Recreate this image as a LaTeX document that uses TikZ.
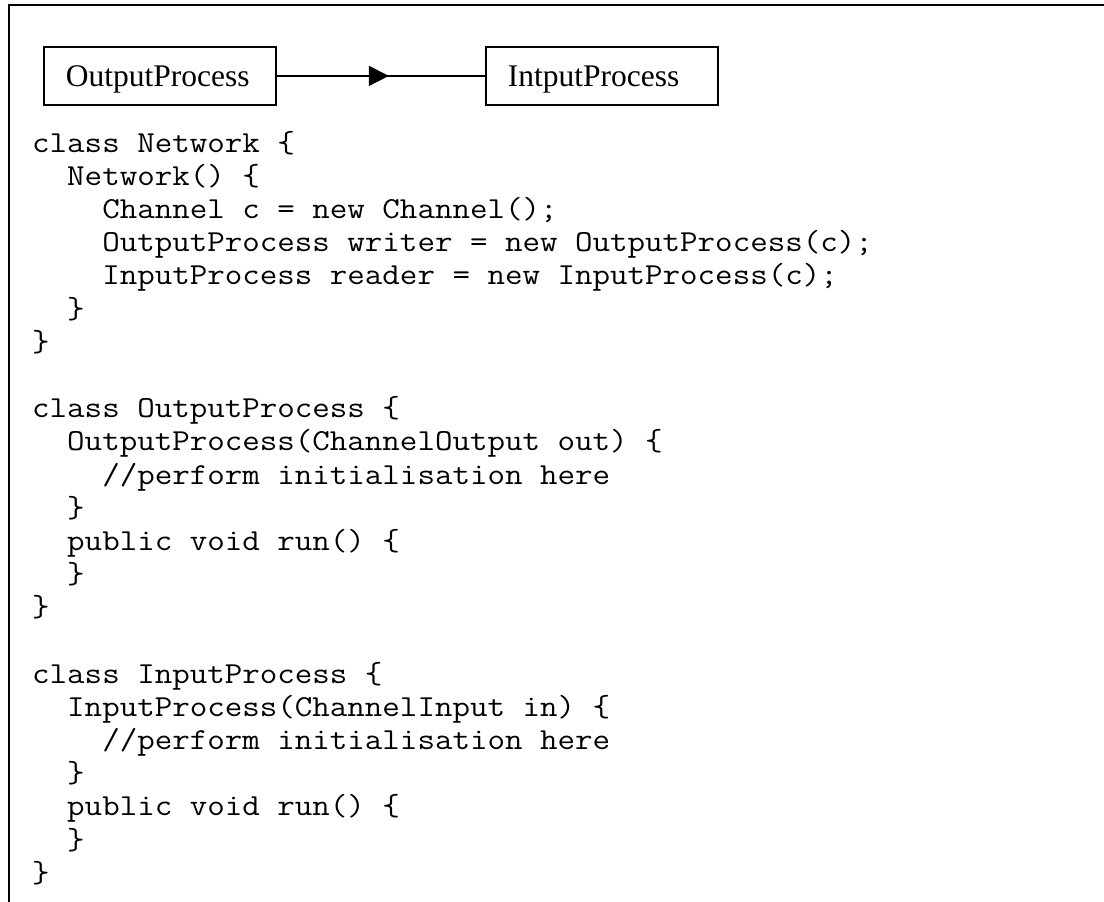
\documentclass[tikz,border=0pt]{standalone}
\usepackage{fontspec}
\setmainfont{Liberation Serif}
\usetikzlibrary{arrows.meta,decorations.markings}
\begin{document}
\begin{tikzpicture}[x=1pt,y=-1pt,
  frame/.style={line width=2.5pt},
  classbox/.style={draw,line width=1.8pt,anchor=north west,
    minimum height=58pt,text width=188pt,inner xsep=22pt,inner ysep=0pt,
    align=left,text height=22pt,text depth=0pt,
    font=\fontsize{31.5}{36}\selectfont},
  flow/.style={line width=1.8pt,postaction={decorate},
    decoration={markings,mark=at position 0.538 with
      {\arrow{Triangle[length=20pt,width=20pt]}}}},
  codeblock/.style={anchor=base west,inner sep=0pt,
    font=\ttfamily\fontsize{30.5}{33.2}\selectfont}]
\useasboundingbox (0,0) rectangle (1104,902);

% page frame: top rule and left rule
\coordinate (fbl) at (9,902);
\coordinate (ftl) at (9,5);
\coordinate (ftr) at (1104,5);
\draw[frame] (fbl) -- (ftl) -- (ftr);

% the two processes
\node[classbox] (op) at (43,46) {OutputProcess};
\node[classbox] (ip) at (485,46) {IntputProcess};
\draw[flow] (op.east) -- (ip.west);

% Java listing, widened to a Courier-like pitch
\node[codeblock] (code) at (32,152) {\scalebox{1.115}[1]{\begin{tabular}[t]{@{}l@{}}
class Network \{\\
\phantom{xx}Network() \{\\
\phantom{xxxx}Channel c = new Channel();\\
\phantom{xxxx}OutputProcess writer = new OutputProcess(c);\\
\phantom{xxxx}InputProcess reader = new InputProcess(c);\\
\phantom{xx}\}\\
\}\\
\\
class OutputProcess \{\\
\phantom{xx}OutputProcess(ChannelOutput out) \{\\
\phantom{xxxx}//perform initialisation here\\
\phantom{xx}\}\\
\phantom{xx}public void run() \{\\
\phantom{xx}\}\\
\}\\
\\
class InputProcess \{\\
\phantom{xx}InputProcess(ChannelInput in) \{\\
\phantom{xxxx}//perform initialisation here\\
\phantom{xx}\}\\
\phantom{xx}public void run() \{\\
\phantom{xx}\}\\
\}
\end{tabular}}};
\end{tikzpicture}
\end{document}
